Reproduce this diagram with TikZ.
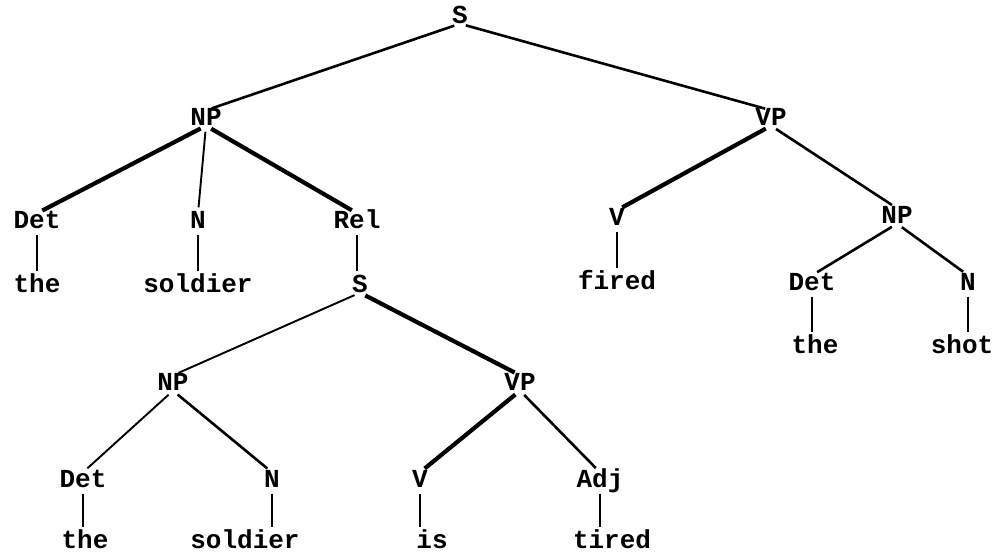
\documentclass[tikz,border=0pt]{standalone}
\usepackage{fontspec}
\setmainfont{Liberation Mono}
\begin{document}
\begin{tikzpicture}[x=1pt,y=-1pt,
    word/.style={inner sep=0pt, text height=15pt, text depth=0pt, font=\fontsize{26}{30}\selectfont\bfseries},
    branch/.style={line width=2.6pt, shorten <=6pt, shorten >=6pt},
    lightbranch/.style={branch, line width=1.9pt},
    heavybranch/.style={branch, line width=4.2pt}]
    \useasboundingbox (0,0) rectangle (998,555);

    % top level
    \node (s) at (460,16) [word] {S};
    \node (np) at (206,118) [word] {NP};
    \node (vp) at (771,118) [word] {VP};

    % subject noun phrase
    \node (det) at (37,221) [word] {Det};
    \node (n) at (198,221) [word] {N};
    \node (rel) at (357,221) [word] {Rel};
    \node (the) at (37,285) [word] {the};
    \node (soldier) at (198,285) [word] {soldier};
    \node (rs) at (360,285) [word] {S};

    % relative clause
    \node (rnp) at (173,383) [word] {NP};
    \node (rvp) at (520,383) [word] {VP};
    \node (rdet) at (83,480) [word] {Det};
    \node (rn) at (272,480) [word] {N};
    \node (rv) at (420,480) [word] {V};
    \node (adj) at (600,480) [word] {Adj};
    \node (rthe) at (85,541) [word] {the};
    \node (rsoldier) at (245,541) [word] {soldier};
    \node (is) at (432,541) [word] {is};
    \node (tired) at (612,541) [word] {tired};

    % verb phrase
    \node (v) at (617,218) [word] {V};
    \node (fired) at (617,282) [word] {fired};
    \node (onp) at (897,216) [word] {NP};
    \node (odet) at (812,283) [word] {Det};
    \node (on) at (968,283) [word] {N};
    \node (othe) at (815,346) [word] {the};
    \node (shot) at (962,346) [word] {shot};

    \draw [branch] (s.south) -- (np.north);
    \draw [branch] (s.south) -- (vp.north);

    \draw [heavybranch] (np.south) -- (det.north);
    \draw [lightbranch] (np.south) -- (n.north);
    \draw [heavybranch] (np.south) -- (rel.north);
    \draw [branch] (det.south) -- (det.south |- the.north);
    \draw [branch] (n.south) -- (n.south |- soldier.north);
    \draw [branch] (rel.south) -- (rel.south |- rs.north);

    \draw [lightbranch] (rs.south) -- (rnp.north);
    \draw [heavybranch] (rs.south) -- (rvp.north);
    \draw [lightbranch] (rnp.south) -- (rdet.north);
    \draw [branch] (rnp.south) -- (rn.north);
    \draw [heavybranch] (rvp.south) -- (rv.north);
    \draw [branch] (rvp.south) -- (adj.north);
    \draw [lightbranch] (rdet.south) -- (rdet.south |- rthe.north);
    \draw [lightbranch] (rn.south) -- (rn.south |- rsoldier.north);
    \draw [lightbranch] (rv.south) -- (rv.south |- is.north);
    \draw [lightbranch] (adj.south) -- (adj.south |- tired.north);

    \draw [heavybranch] (vp.south) -- (v.north);
    \draw [branch] (vp.south) -- (onp.north);
    \draw [branch] (v.south) -- (v.south |- fired.north);
    \draw [branch] (onp.south) -- (odet.north);
    \draw [branch] (onp.south) -- (on.north);
    \draw [branch] (odet.south) -- (odet.south |- othe.north);
    \draw [branch] (on.south) -- (on.south |- shot.north);
\end{tikzpicture}
\end{document}
